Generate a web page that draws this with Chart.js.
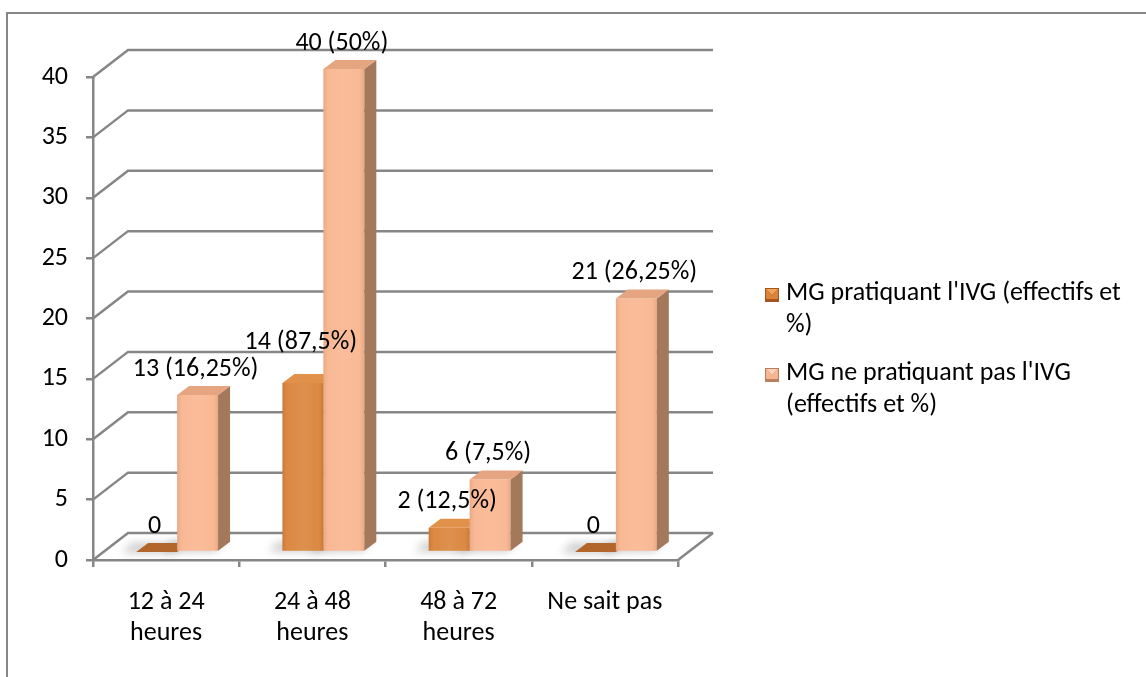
<!DOCTYPE html>
<html>
<head>
<meta charset="utf-8">
<script src="https://cdn.jsdelivr.net/npm/chart.js@4.4.1/dist/chart.umd.min.js"></script>
<style>
  html, body { margin: 0; padding: 0; background: #ffffff; }
  #wrap { width: 1146px; height: 677px; position: relative; }
</style>
</head>
<body>
<div id="wrap"><canvas id="c" width="1146" height="677"></canvas></div>
<script>
// Delay categories (x axis)
const categories = [['12 à 24', 'heures'], ['24 à 48', 'heures'], ['48 à 72', 'heures'], 'Ne sait pas'];
// Series names, as wrapped in the legend
const seriesNames = [
  ["MG pratiquant l'IVG (effectifs et", '%)'],
  ["MG ne pratiquant pas l'IVG", '(effectifs et %)']
];
// Counts and shares per category
const practisingCounts = [0, 14, 2, 0];
const practisingPercents = [0, 87.5, 12.5, 0];
const nonPractisingCounts = [13, 40, 6, 21];
const nonPractisingPercents = [16.25, 50, 7.5, 26.25];
// Value axis
const yMin = 0, yMax = 40, yStep = 5;

const FONT = "Carlito, Calibri, Lato, 'Open Sans', sans-serif";
const FONT_SIZE = 26;
const AXIS_GREY = '#868686';

// 3D look: walls and bar depth
const WALL = { dx: 35, dy: -27 };
const BAR_SHIFT = { dx: 11, dy: -8 };
const BAR_DEPTH = { dx: 12, dy: -9 };

const palettes = [
  { front: '#DA8339', top: '#E2914A', side: '#A65C22', flat: '#B3662B', legendDark: '#A4561C', legendLight: '#F0A55C' },
  { front: '#F9B58F', top: '#E6A581', side: '#A4785A', flat: '#D9956F', legendDark: '#B9805F', legendLight: '#FCD3BA' }
];

function fmtLabel(v, p) {
  if (v === 0) return '0';
  return v + ' (' + String(p).replace('.', ',') + '%)';
}
const percents = [practisingPercents, nonPractisingPercents];

function poly(ctx, pts, fill) {
  ctx.beginPath();
  ctx.moveTo(pts[0][0], pts[0][1]);
  for (let i = 1; i < pts.length; i++) ctx.lineTo(pts[i][0], pts[i][1]);
  ctx.closePath();
  ctx.fillStyle = fill;
  ctx.fill();
}

const scenePlugin = {
  id: 'scene',
  beforeDraw(chart) {
    const ctx = chart.ctx;
    ctx.save();
    ctx.fillStyle = '#ffffff';
    ctx.fillRect(0, 0, chart.width, chart.height);
    ctx.strokeStyle = AXIS_GREY;
    ctx.lineWidth = 2;
    ctx.beginPath();
    ctx.moveTo(7, chart.height);
    ctx.lineTo(7, 13);
    ctx.lineTo(chart.width, 13);
    ctx.stroke();
    ctx.restore();
  },
  beforeDatasetsDraw(chart) {
    // back wall gridlines, side wall diagonals and the floor's right edge
    const ctx = chart.ctx;
    const { left, right, bottom } = chart.chartArea;
    const ys = chart.scales.y;
    ctx.save();
    ctx.strokeStyle = AXIS_GREY;
    ctx.lineWidth = 2.5;
    ys.ticks.forEach(t => {
      const y = ys.getPixelForValue(t.value);
      ctx.beginPath();
      ctx.moveTo(left, y);
      ctx.lineTo(left + WALL.dx, y + WALL.dy);
      ctx.lineTo(right + WALL.dx, y + WALL.dy);
      ctx.stroke();
    });
    ctx.beginPath();
    ctx.moveTo(right, bottom);
    ctx.lineTo(right + WALL.dx, bottom + WALL.dy);
    ctx.stroke();
    ctx.restore();
  },
  beforeDatasetDraw() {
    // bars are drawn together below, in depth order
    return false;
  },
  afterDatasetsDraw(chart) {
    const ctx = chart.ctx;
    ctx.save();
    ctx.translate(BAR_SHIFT.dx, BAR_SHIFT.dy);
    // soft floor shadows
    chart.data.datasets.forEach((ds, di) => {
      chart.getDatasetMeta(di).data.forEach(el => {
        const { x, base, width } = el.getProps(['x', 'base', 'width'], true);
        const l = x - width / 2, r = x + width / 2;
        ctx.save();
        ctx.filter = 'blur(4px)';
        poly(ctx, [[l - 14, base + 1], [r - 4, base + 1], [r + BAR_DEPTH.dx - 4, base + BAR_DEPTH.dy], [l + BAR_DEPTH.dx - 16, base + BAR_DEPTH.dy]], 'rgba(0,0,0,0.2)');
        ctx.restore();
      });
    });
    chart.data.datasets.forEach((ds, di) => {
      const pal = palettes[di];
      chart.getDatasetMeta(di).data.forEach(el => {
        const { x, y, base, width } = el.getProps(['x', 'y', 'base', 'width'], true);
        const l = x - width / 2, r = x + width / 2;
        const h = base - y;
        el.draw(ctx);
        if (h > 1) {
          const g = ctx.createLinearGradient(l, 0, r, 0);
          g.addColorStop(0, 'rgba(0,0,0,0.07)');
          g.addColorStop(0.12, 'rgba(255,255,255,0.05)');
          g.addColorStop(0.5, 'rgba(255,255,255,0.10)');
          g.addColorStop(0.88, 'rgba(255,255,255,0.05)');
          g.addColorStop(1, 'rgba(0,0,0,0.07)');
          ctx.fillStyle = g;
          ctx.fillRect(l, y, width, h);
          // side face
          poly(ctx, [[r, y], [r + BAR_DEPTH.dx, y + BAR_DEPTH.dy], [r + BAR_DEPTH.dx, base + BAR_DEPTH.dy], [r, base]], pal.side);
        }
        // top face
        poly(ctx, [[l, y], [r, y], [r + BAR_DEPTH.dx, y + BAR_DEPTH.dy], [l + BAR_DEPTH.dx, y + BAR_DEPTH.dy]], h > 1 ? pal.top : pal.flat);
      });
    });
    ctx.restore();
  },
  afterDraw(chart) {
    const ctx = chart.ctx;
    ctx.save();
    // value labels, placed category by category
    ctx.font = FONT_SIZE + 'px ' + FONT;
    ctx.fillStyle = '#000000';
    ctx.textAlign = 'center';
    ctx.textBaseline = 'middle';
    const lineH = 27;
    const placed = [];
    const n = chart.data.labels.length;
    for (let i = 0; i < n; i++) {
      chart.data.datasets.forEach((ds, di) => {
        const el = chart.getDatasetMeta(di).data[i];
        const { x, y } = el.getProps(['x', 'y'], true);
        const text = fmtLabel(ds.data[i], percents[di][i]);
        const w = ctx.measureText(text).width;
        const cx = x + BAR_SHIFT.dx - 2;
        let cy = y + BAR_SHIFT.dy - 26;
        placed.forEach(b => {
          const overlapX = Math.abs(cx - b.cx) < (w + b.w) / 2;
          const overlapY = Math.abs(cy - b.cy) < lineH;
          if (overlapX && overlapY) cy = b.cy - lineH;
        });
        placed.push({ cx, cy, w });
        ctx.fillText(text, cx, cy);
      });
    }
    // legend
    const lg = { x: 765, y: 293, box: 14, textX: 786, lineGap: 32, itemGap: 48 };
    ctx.textAlign = 'left';
    let ly = lg.y;
    chart.data.datasets.forEach((ds, di) => {
      const pal = palettes[di];
      const bx = lg.x, by = ly - lg.box / 2 + 2, s = lg.box;
      ctx.fillStyle = pal.legendDark;
      ctx.fillRect(bx, by, s, s);
      poly(ctx, [[bx + 1, by + 1], [bx + s - 1, by + 1], [bx + s / 2, by + s / 2]], pal.legendLight);
      poly(ctx, [[bx + 1, by + 1], [bx + s / 2, by + s / 2], [bx + 1, by + s - 3]], pal.front);
      poly(ctx, [[bx + s - 1, by + 1], [bx + s / 2, by + s / 2], [bx + s - 1, by + s - 3]], pal.front);
      ctx.fillStyle = pal.front;
      ctx.fillRect(bx + 2, by + s / 2, s - 4, s / 2 - 3);
      ctx.fillStyle = '#000000';
      seriesNames[di].forEach((line, li) => {
        ctx.fillText(line, lg.textX, ly + li * lg.lineGap);
      });
      ly += seriesNames[di].length * lg.lineGap + (lg.itemGap - lg.lineGap);
    });
    ctx.restore();
  }
};

new Chart(document.getElementById('c'), {
  type: 'bar',
  data: {
    labels: categories,
    datasets: [
      { label: seriesNames[0].join(' '), data: practisingCounts, backgroundColor: palettes[0].front, borderWidth: 0 },
      { label: seriesNames[1].join(' '), data: nonPractisingCounts, backgroundColor: palettes[1].front, borderWidth: 0 }
    ]
  },
  options: {
    responsive: false,
    animation: false,
    devicePixelRatio: 1,
    categoryPercentage: 0.56,
    barPercentage: 1,
    layout: { padding: { left: 0, top: 77, right: 468, bottom: 0 } },
    plugins: { legend: { display: false }, tooltip: { enabled: false } },
    scales: {
      x: {
        grid: { drawOnChartArea: false, offset: true, tickLength: 7, color: AXIS_GREY, lineWidth: 2.5 },
        border: { color: AXIS_GREY, width: 2.5 },
        ticks: { color: '#000000', font: { family: FONT, size: FONT_SIZE, lineHeight: 1.2 }, padding: 20, maxRotation: 0, autoSkip: false },
        afterFit(s) { s.height = 117; }
      },
      y: {
        min: yMin, max: yMax,
        grid: { drawOnChartArea: false, tickLength: 7, color: AXIS_GREY, lineWidth: 2.5 },
        border: { color: AXIS_GREY, width: 2.5 },
        ticks: { stepSize: yStep, color: '#000000', font: { family: FONT, size: FONT_SIZE }, padding: 18 },
        afterFit(s) { s.width = 93; }
      }
    }
  },
  plugins: [scenePlugin]
});
</script>
</body>
</html>
